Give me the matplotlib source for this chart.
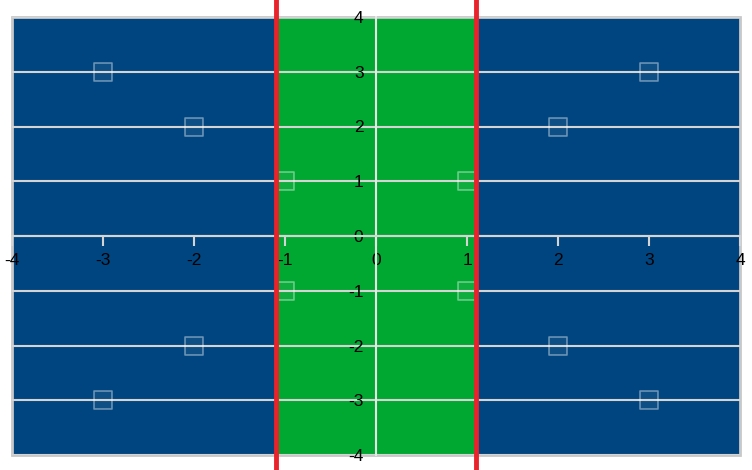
import matplotlib
matplotlib.use("Agg")
import matplotlib.pyplot as plt

# points of the chart
xs = [-3, 3, -2, 2, -1, 1, -1, 1, -2, 2, -3, 3]
ys = [3, 3, 2, 2, 1, 1, -1, -1, -2, -2, -3, -3]
ticks = [-4, -3, -2, -1, 0, 1, 2, 3, 4]
band = (-1.1, 1.1)

blue = "#00457f"
green = "#00a832"
red = "#e8232b"
grid = "#d4d4d4"

plt.rcParams["font.family"] = ["Liberation Sans", "DejaVu Sans"]

fig = plt.figure(figsize=(7.52, 4.70), dpi=100)
ax = fig.add_axes([12 / 752, 15 / 470, 728 / 752, 438 / 470])
ax.set_facecolor(blue)
ax.set_xlim(-4, 4)
ax.set_ylim(-4, 4)

ax.axvspan(band[0], band[1], color=green, zorder=0.5, lw=0)
ax.grid(axis="y", color=grid, lw=1.5)
ax.grid(axis="x", visible=False)

ax.scatter(xs, ys, marker="s", s=160, facecolor=(1, 1, 1, 0.06),
           edgecolor=(1, 1, 1, 0.4), lw=1.2, zorder=3)

for xv in band:
    ax.axvline(xv, ymin=-0.05, ymax=1.05, color=red, lw=3.5,
               clip_on=False, zorder=4)

ax.spines["left"].set_position(("data", 0))
ax.spines["bottom"].set_position(("data", 0))
ax.spines["left"].set_color("#e8e8e8")
ax.spines["bottom"].set_color(grid)
ax.spines["left"].set_linewidth(1.5)
ax.spines["bottom"].set_linewidth(1.5)
ax.spines["left"].set_zorder(2)
for s in ["top", "right"]:
    ax.spines[s].set_visible(False)

ax.set_xticks(ticks)
ax.set_yticks(ticks)
ax.set_xticklabels([str(t) for t in ticks])
ax.set_yticklabels([str(t) for t in ticks])
ax.tick_params(axis="x", direction="out", length=7, width=1.5, color=grid,
               labelsize=12.5, pad=5)
ax.tick_params(axis="y", length=0, labelsize=12.5, pad=9)

# light frame around the plot area, kept under the tick labels
frame = plt.Rectangle((0, 0), 1, 1, transform=ax.transAxes, fill=False,
                      ec="#c8c8c8", lw=2, zorder=1, clip_on=False)
ax.add_patch(frame)

fig.savefig("out.png", dpi=100)
